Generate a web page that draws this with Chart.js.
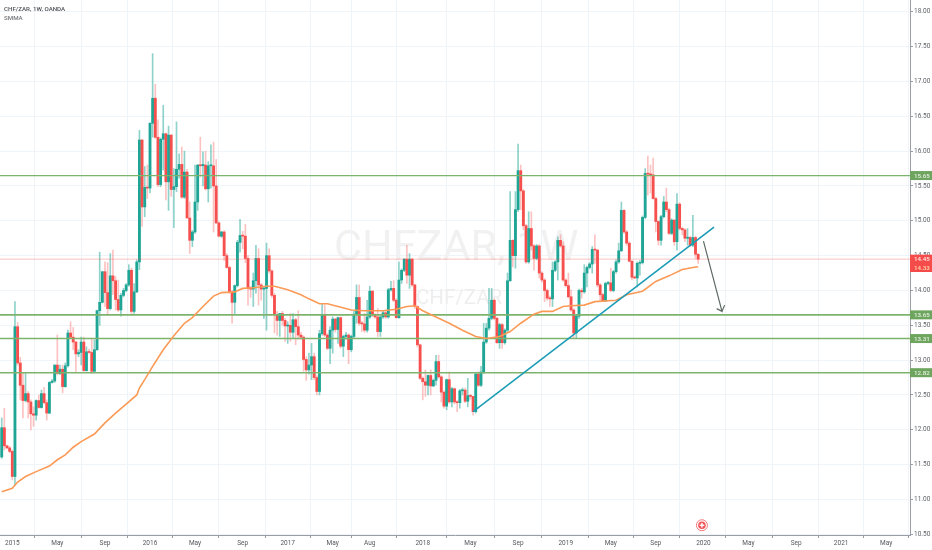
<!DOCTYPE html>
<html lang="en">
<head>
    <meta charset="UTF-8">
    <title>CHF/ZAR, 1W, OANDA</title>
    <script src="https://cdn.jsdelivr.net/npm/chart.js@4/dist/chart.umd.min.js"></script>
    <style>
        body { margin: 0; background: #fff; }
        #wrap { width: 932px; height: 550px; position: relative; }
    </style>
</head>
<body>
    <div id="wrap"><canvas id="chart"></canvas></div>

    <script>
        // week number of the first candle, 0 is the first week of 2015
        const firstWeek = -4;

        const opens = [
            11.61,12.03,11.77,11.74,11.69,11.33,13.48,12.96,12.64,12.42,
            12.52,12.40,12.23,12.21,12.42,12.32,12.52,12.39,12.24,12.68,
            12.70,12.93,12.81,12.87,12.62,12.92,13.39,13.33,13.26,13.09,
            13.11,13.26,12.85,13.12,13.11,12.84,13.15,13.71,13.83,14.27,
            13.97,13.74,14.21,14.14,13.87,13.72,13.93,14.00,14.08,14.29,
            13.70,13.98,14.41,16.16,15.20,15.48,15.47,16.40,16.76,16.20,
            15.52,16.17,16.25,15.56,16.23,15.45,15.49,15.74,15.81,15.34,
            15.70,15.04,14.72,14.84,15.27,15.80,15.79,15.80,15.46,15.79,
            15.79,15.50,14.97,14.78,14.84,14.50,14.33,13.98,13.83,14.07,
            14.69,14.79,14.78,14.46,14.03,14.02,14.14,14.46,14.08,14.02,
            14.03,14.50,14.28,13.93,13.65,13.57,13.67,13.57,13.49,13.50,
            13.40,13.58,13.48,13.36,13.33,13.01,12.86,12.93,13.05,12.75,
            12.55,13.38,13.65,13.36,13.17,13.43,13.59,13.44,13.61,13.20,
            13.34,13.36,13.15,13.34,13.66,13.90,13.53,13.52,13.43,13.62,
            13.99,13.65,13.62,13.41,13.62,13.68,13.62,14.01,14.03,13.86,
            13.61,14.15,14.29,14.45,14.22,14.45,14.08,13.77,13.22,12.74,
            12.69,12.64,12.78,12.63,12.71,12.98,12.76,12.54,12.34,12.72,
            12.40,12.59,12.40,12.39,12.56,12.57,12.41,12.49,12.48,12.26,
            12.80,12.64,12.83,13.26,13.46,13.60,13.86,13.60,13.25,13.51,
            13.25,13.43,14.14,14.72,14.50,15.16,15.72,15.43,14.93,14.41,
            14.89,14.64,14.46,14.64,14.25,14.15,14.00,13.89,13.88,14.29,
            14.41,14.72,14.64,14.15,14.07,13.91,13.72,13.39,13.63,14.00,
            13.98,14.25,14.33,14.38,14.59,14.58,14.08,13.94,13.85,14.10,
            14.11,14.00,14.27,14.41,14.57,15.15,14.84,14.68,14.42,14.19,
            14.18,14.39,14.40,15.05,15.68,15.67,15.66,15.32,14.99,14.72,
            15.06,15.27,15.16,14.82,15.01,14.70,15.24,14.89,14.87,14.75,
            14.76,14.65,14.76,14.52
        ];
        const highs = [
            12.17,12.31,11.78,11.76,11.71,13.84,13.54,13.04,12.81,12.82,
            12.55,12.43,12.33,12.43,12.50,12.57,12.61,12.43,12.69,12.72,
            12.93,13.36,12.93,12.93,12.96,13.43,13.55,13.47,13.27,13.15,
            13.33,13.33,13.19,13.16,13.31,13.29,13.72,14.55,14.27,14.41,
            14.40,14.53,14.58,14.20,14.15,13.96,14.03,14.10,14.37,14.32,
            14.10,14.44,16.30,16.17,15.78,15.80,16.41,17.40,16.96,16.45,
            16.19,16.66,16.26,16.36,16.24,15.75,16.42,15.96,16.06,16.00,
            15.74,15.27,14.86,15.80,15.81,16.20,15.99,16.00,15.85,16.09,
            16.13,15.88,14.99,14.85,14.86,14.53,14.35,14.00,14.08,14.72,
            15.02,14.85,14.95,14.50,14.06,14.25,14.65,14.60,14.10,14.05,
            14.68,14.60,14.30,13.96,13.70,13.67,13.70,13.60,13.55,13.67,
            13.67,13.60,13.71,13.40,13.35,13.05,13.10,13.24,13.10,12.78,
            13.43,13.81,13.79,13.38,13.48,13.62,13.60,13.62,13.62,13.36,
            13.40,13.38,13.36,13.70,14.08,14.08,13.56,13.67,13.86,14.06,
            14.00,13.67,13.74,13.64,13.70,13.70,14.03,14.13,14.14,13.88,
            14.41,14.31,14.46,14.65,14.53,14.46,14.09,13.78,13.23,12.76,
            12.86,12.79,12.86,12.73,13.07,13.07,12.78,12.56,12.73,12.83,
            12.61,12.60,12.42,12.58,12.60,12.60,12.74,12.51,12.48,12.82,
            12.83,12.91,13.53,13.53,14.03,14.03,13.88,13.62,13.53,13.53,
            13.45,14.25,15.42,14.73,15.42,16.10,15.80,15.45,14.95,15.13,
            15.13,14.66,14.66,14.66,14.27,14.17,14.02,13.92,14.41,14.43,
            14.77,14.80,14.70,14.17,14.25,14.01,13.74,13.65,14.02,14.03,
            14.37,14.35,14.40,14.63,14.80,14.59,14.10,13.96,14.12,14.13,
            14.32,14.29,14.44,14.68,15.27,15.16,14.86,14.70,14.43,14.21,
            14.41,14.43,15.07,15.75,15.93,15.80,15.90,15.34,15.00,15.08,
            15.35,15.47,15.18,15.03,15.02,15.39,15.26,14.91,14.89,14.89,
            14.78,15.08,14.78,14.53
        ];
        const lows = [
            11.59,11.71,11.73,11.67,11.28,11.21,12.93,12.43,12.17,12.40,
            12.17,12.00,12.05,12.14,12.31,12.31,12.37,12.14,12.23,12.67,
            12.68,12.79,12.79,12.53,12.61,12.90,13.31,13.15,12.84,13.05,
            12.93,12.84,12.84,13.10,12.81,12.82,13.14,13.50,13.82,13.77,
            13.65,13.72,13.94,13.72,13.70,13.63,13.91,13.98,14.06,13.67,
            13.67,13.97,14.30,14.92,15.06,15.32,15.40,16.20,16.18,15.49,
            15.49,15.73,15.30,15.15,15.35,14.90,15.42,15.61,15.32,15.32,
            15.04,14.53,14.63,14.82,15.15,15.63,15.50,15.44,15.27,15.47,
            14.84,14.96,14.77,14.76,14.43,14.32,13.96,13.53,13.67,14.05,
            14.55,14.60,14.40,13.79,13.90,13.77,13.96,13.79,13.86,13.60,
            13.43,14.25,13.90,13.39,13.36,13.34,13.50,13.27,13.24,13.27,
            13.31,13.22,13.30,13.30,12.84,12.71,12.80,12.72,12.72,12.50,
            12.50,13.36,13.34,13.15,12.95,13.10,13.40,13.24,13.17,13.05,
            13.30,12.95,13.12,13.32,13.53,13.50,13.41,13.40,13.40,13.60,
            13.62,13.60,13.34,13.34,13.60,13.60,13.60,13.99,13.84,13.60,
            13.60,14.10,14.27,14.10,14.03,14.06,13.74,13.19,12.72,12.43,
            12.48,12.50,12.50,12.62,12.64,12.74,12.40,12.31,12.29,12.38,
            12.33,12.37,12.26,12.31,12.50,12.39,12.33,12.44,12.21,12.24,
            12.62,12.62,12.81,13.24,13.43,13.58,13.58,13.24,13.17,13.17,
            13.23,13.41,14.13,14.34,14.32,15.13,15.16,14.87,14.39,14.39,
            14.58,14.29,14.44,14.18,14.12,13.84,13.86,13.77,13.77,14.27,
            14.15,14.62,14.13,14.05,13.89,13.70,13.31,13.31,13.60,13.89,
            13.96,14.05,14.31,14.25,14.39,14.05,13.86,13.84,13.84,14.08,
            13.98,13.98,14.25,14.39,14.56,14.82,14.65,14.41,14.15,14.17,
            14.05,14.22,14.38,15.03,15.37,15.40,15.31,14.84,14.65,14.65,
            15.04,15.13,14.80,14.80,14.65,14.58,14.87,14.80,14.70,14.65,
            14.63,14.63,14.46,14.39
        ];
        const closes = [
            12.03,11.77,11.74,11.69,11.33,13.48,12.96,12.64,12.42,12.52,
            12.40,12.23,12.21,12.42,12.32,12.52,12.39,12.24,12.68,12.70,
            12.93,12.81,12.87,12.62,12.92,13.39,13.33,13.26,13.09,13.11,
            13.26,12.85,13.12,13.11,12.84,13.15,13.71,13.83,14.27,13.97,
            13.74,14.21,14.14,13.87,13.72,13.93,14.00,14.08,14.29,13.70,
            13.98,14.41,16.16,15.20,15.48,15.47,16.40,16.76,16.20,15.52,
            16.17,16.25,15.56,16.23,15.45,15.49,15.74,15.81,15.34,15.70,
            15.04,14.72,14.84,15.27,15.80,15.79,15.81,15.46,15.79,15.79,
            15.50,14.97,14.78,14.84,14.50,14.33,13.98,13.83,14.07,14.69,
            14.79,14.78,14.46,14.03,14.02,14.14,14.46,14.08,14.02,14.03,
            14.50,14.28,13.93,13.65,13.57,13.67,13.57,13.49,13.50,13.40,
            13.58,13.48,13.36,13.33,13.01,12.86,12.93,13.05,12.75,12.55,
            13.38,13.65,13.36,13.17,13.43,13.59,13.44,13.61,13.20,13.34,
            13.36,13.15,13.34,13.66,13.90,13.53,13.52,13.43,13.62,13.99,
            13.65,13.62,13.41,13.62,13.68,13.62,14.01,14.03,13.86,13.61,
            14.15,14.29,14.45,14.22,14.45,14.08,13.77,13.22,12.74,12.69,
            12.64,12.78,12.63,12.71,12.98,12.76,12.54,12.34,12.72,12.40,
            12.59,12.40,12.39,12.56,12.57,12.41,12.49,12.48,12.26,12.80,
            12.64,12.83,13.26,13.46,13.60,13.86,13.60,13.25,13.51,13.25,
            13.43,14.14,14.72,14.50,15.16,15.72,15.43,14.93,14.41,14.89,
            14.64,14.46,14.64,14.25,14.15,14.00,13.89,13.88,14.29,14.41,
            14.72,14.64,14.15,14.07,13.91,13.72,13.39,13.63,14.00,13.98,
            14.25,14.33,14.38,14.59,14.58,14.08,13.94,13.85,14.10,14.11,
            14.00,14.27,14.41,14.57,15.15,14.84,14.68,14.42,14.19,14.18,
            14.39,14.40,15.05,15.68,15.67,15.66,15.32,14.99,14.72,15.06,
            15.27,15.16,14.82,15.01,14.70,15.24,14.89,14.87,14.75,14.76,
            14.65,14.76,14.52,14.45
        ];

        // SMMA at these weeks
        const smmaWeeks = [-4,0,2,5,9,14,17,20,23,26,31,35,39,43,47,48,50,53,57,61,65,68,72,76,79,84,87,91,96,99,104,109,112,116,119,123,128,133,140,145,149,152,155,160,165,170,175,179,184,188,192,197,200,204,208,211,216,220,228,232,238,243,248,253,257,259];
        const smmaValues = [11.11,11.16,11.25,11.33,11.40,11.48,11.57,11.64,11.75,11.83,11.94,12.10,12.24,12.37,12.50,12.60,12.72,12.91,13.15,13.35,13.53,13.61,13.77,13.92,13.97,13.98,14.03,14.04,14.06,14.06,14.01,13.94,13.88,13.81,13.81,13.77,13.72,13.71,13.71,13.73,13.77,13.78,13.71,13.62,13.53,13.43,13.34,13.31,13.34,13.41,13.53,13.66,13.70,13.70,13.77,13.78,13.79,13.84,13.86,13.94,13.99,14.13,14.21,14.30,14.33,14.34];

        const levelValues = [15.65, 13.65, 13.31, 12.82];
        const lastPrice = 14.45;
        const lastSmma = 14.33;

        const trendWeeks = [174, 265];
        const trendValues = [12.26, 14.91];

        const arrowWeeks = [261, 268, 266, 268, 269];
        const arrowValues = [14.71, 13.70, 13.74, 13.70, 13.79];

        const xTickWeeks = [0,17,35,52,69,87,104,121,135,155,173,191,209,226,243,261,278,296,313,330];
        const xTickLabels = ['2015','May','Sep','2016','May','Sep','2017','May','Aug','2018','May','Sep','2019','May','Sep','2020','May','Sep','2021','May'];
        const yTickValues = [10.5,11,11.5,12,12.5,13,13.5,14,14.5,15,15.5,16,16.5,17,17.5,18];

        const xMin = -4.65, xMax = 339;
        const fontName = 'Roboto, sans-serif';
        const upColor = '#1fa596', downColor = '#f6504e';
        const greenLine = '#7db36c', greenTag = '#6ea55e', redTag = '#f64b4b';

        const weeks = opens.map((_, i) => firstWeek + i);
        const isUp = closes.map((c, i) => c >= opens[i]);

        // everything drawn on the canvas that is not a dataset
        const decorations = {
            id: 'decorations',
            beforeDatasetsDraw(chart) {
                const { ctx } = chart;
                ctx.save();
                ctx.textBaseline = 'alphabetic';
                ctx.textAlign = 'left';
                ctx.fillStyle = '#f1f1f1';
                ctx.font = '43px ' + fontName;
                ctx.fillText('CHFZAR, 1W', 334, 260);
                ctx.fillStyle = '#eeeeee';
                ctx.font = '20.5px ' + fontName;
                ctx.fillText('CHF/ZAR', 416, 304);
                ctx.restore();
            },
            afterDraw(chart) {
                const { ctx, scales } = chart;
                const right = chart.chartArea.right;
                ctx.save();
                ctx.textBaseline = 'middle';
                ctx.textAlign = 'left';
                ctx.font = '500 6.2px ' + fontName;
                ctx.fillStyle = '#4c5055';
                ctx.fillText('CHF/ZAR, 1W, OANDA', 4, 9);
                ctx.fillStyle = '#74787c';
                ctx.fillText('SMMA', 4, 18);

                const tag = (value, bg, fg, text) => {
                    const y = scales.y.getPixelForValue(value);
                    ctx.fillStyle = bg;
                    ctx.fillRect(right, y - 4.5, 22, 9);
                    ctx.fillStyle = fg;
                    ctx.fillText(text, right + 4, y + 0.5);
                };
                levelValues.forEach(v => tag(v, greenTag, '#e6f0e2', v.toFixed(2)));
                tag(lastPrice, redTag, '#ffe9e6', lastPrice.toFixed(2));
                tag(lastSmma, redTag, '#ffd9a8', lastSmma.toFixed(2));

                // earnings mark on the bottom of the plot
                const cx = scales.x.getPixelForValue(261) - 1.5;
                const cy = scales.y.getPixelForValue(10.63);
                ctx.strokeStyle = '#f6797a';
                ctx.lineWidth = 1;
                ctx.beginPath();
                ctx.arc(cx, cy, 5.5, 0, Math.PI * 2);
                ctx.stroke();
                ctx.fillStyle = '#f2555a';
                ctx.beginPath();
                ctx.arc(cx, cy, 3.8, 0, Math.PI * 2);
                ctx.fill();
                ctx.fillStyle = '#fff';
                ctx.fillRect(cx - 2.3, cy - 0.7, 4.6, 1.4);
                ctx.fillRect(cx - 0.7, cy - 2.3, 1.4, 4.6);
                ctx.restore();
            }
        };

        const flatLine = (value, color, width, order) => ({
            type: 'line',
            data: [{ x: xMin, y: value }, { x: xMax, y: value }],
            borderColor: color,
            borderWidth: width,
            pointRadius: 0,
            order: order
        });

        new Chart(document.getElementById('chart'), {
            data: {
                datasets: [
                    {
                        type: 'line',
                        label: 'Trend',
                        data: trendWeeks.map((w, i) => ({ x: w, y: trendValues[i] })),
                        borderColor: '#1c9cb6',
                        borderWidth: 1.6,
                        pointRadius: 0,
                        order: 1
                    },
                    {
                        type: 'line',
                        label: 'Arrow',
                        data: arrowWeeks.map((w, i) => ({ x: w, y: arrowValues[i] })),
                        borderColor: '#5f6b64',
                        borderWidth: 1.2,
                        pointRadius: 0,
                        order: 1
                    },
                    {
                        type: 'line',
                        label: 'SMMA',
                        data: smmaWeeks.map((w, i) => ({ x: w, y: smmaValues[i] })),
                        borderColor: '#fb9a56',
                        borderWidth: 1.6,
                        pointRadius: 0,
                        order: 2
                    },
                    flatLine(levelValues[0], greenLine, 1.3, 3),
                    flatLine(levelValues[1], greenLine, 1.6, 3),
                    flatLine(levelValues[2], greenLine, 1.6, 3),
                    flatLine(levelValues[3], greenLine, 1.6, 3),
                    flatLine(lastPrice, 'rgba(246,80,78,0.35)', 1, 3),
                    {
                        type: 'bar',
                        label: 'Body',
                        data: weeks.map((w, i) => ({ x: w, y: [opens[i], closes[i]] })),
                        backgroundColor: isUp.map(u => u ? upColor : downColor),
                        barThickness: 2.2,
                        minBarLength: 1,
                        grouped: false,
                        order: 4
                    },
                    {
                        type: 'bar',
                        label: 'Wick',
                        data: weeks.map((w, i) => ({ x: w, y: [lows[i], highs[i]] })),
                        backgroundColor: isUp.map(u => u ? 'rgba(31,165,150,0.5)' : 'rgba(246,80,78,0.35)'),
                        barThickness: 1,
                        grouped: false,
                        order: 5
                    }
                ]
            },
            options: {
                responsive: true,
                maintainAspectRatio: false,
                animation: false,
                layout: { padding: 0 },
                elements: { line: { tension: 0 } },
                plugins: { legend: { display: false }, tooltip: { enabled: false }, title: { display: false } },
                scales: {
                    x: {
                        type: 'linear',
                        min: xMin,
                        max: xMax,
                        offset: false,
                        afterBuildTicks: s => { s.ticks = xTickWeeks.map(v => ({ value: v })); },
                        afterFit: s => { s.height = 15; s.paddingLeft = 0; s.paddingRight = 0; },
                        grid: { color: '#eef4f7', lineWidth: 1, tickLength: 3, tickColor: '#9a9ca6' },
                        border: { color: '#9a9ca6', width: 1 },
                        ticks: {
                            autoSkip: false,
                            maxRotation: 0,
                            padding: 1,
                            color: '#55595e',
                            font: { family: fontName, size: 6.5 },
                            callback: v => xTickLabels[xTickWeeks.indexOf(v)]
                        }
                    },
                    y: {
                        position: 'right',
                        min: 10.49,
                        max: 18.17,
                        afterBuildTicks: s => { s.ticks = yTickValues.map(v => ({ value: v })); },
                        afterFit: s => { s.width = 22; s.paddingTop = 0; s.paddingBottom = 0; },
                        grid: { color: '#eef4f7', lineWidth: 1, tickLength: 3, tickColor: '#9a9ca6' },
                        border: { color: '#9a9ca6', width: 1 },
                        ticks: {
                            padding: 1,
                            color: '#5f6368',
                            font: { family: fontName, size: 6.5 },
                            callback: v => v.toFixed(2)
                        }
                    }
                }
            },
            plugins: [decorations]
        });
    </script>
</body>
</html>
